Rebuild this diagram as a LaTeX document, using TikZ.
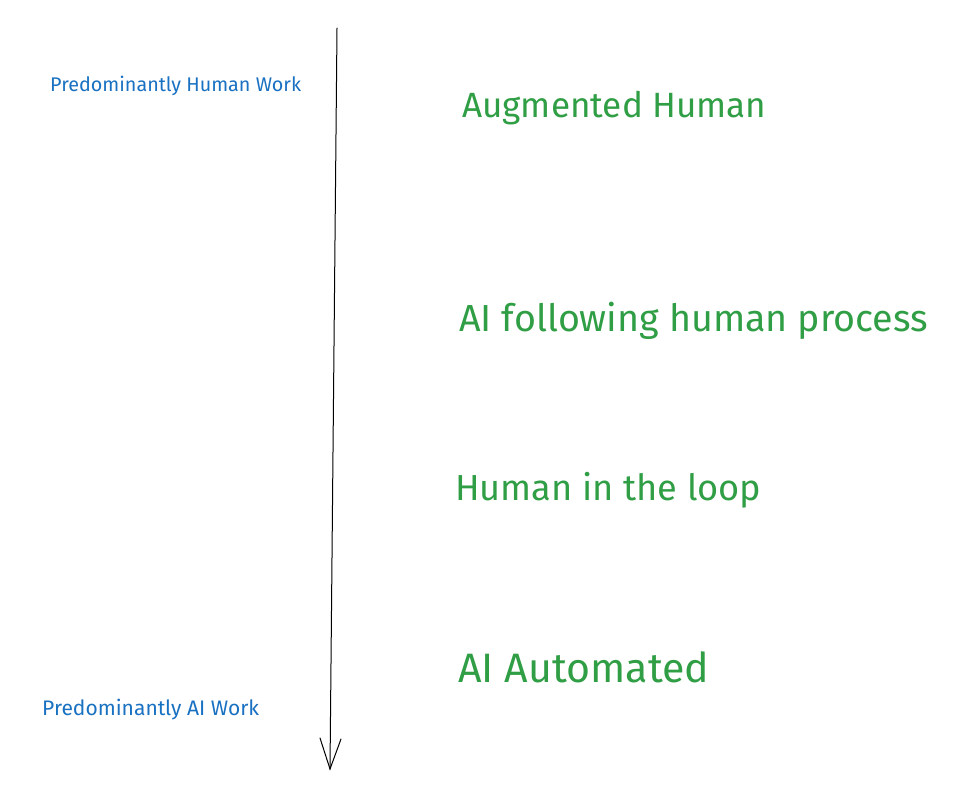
\documentclass[tikz,border=0pt]{standalone}
\usepackage{fontspec}
\setmainfont{Fira Sans}
\usepackage{graphicx}
\definecolor{hgreen}{HTML}{2F9E44}
\definecolor{hblue}{HTML}{1971C2}
\begin{document}
\begin{tikzpicture}[x=1pt,y=-1pt,
  bluelab/.style={anchor=west,inner sep=0pt,text=hblue},
  greenlab/.style={anchor=west,inner sep=0pt,text=hgreen},
  stroke/.style={line width=1pt,line cap=round,black}]
\useasboundingbox[fill=white] (0,0) rectangle (968,796);
\node[bluelab] (hw) at (50,86) {\resizebox{251pt}{!}{Predominantly Human Work}};
\node[bluelab] (aw) at (42,710) {\resizebox{217pt}{!}{Predominantly AI Work}};
\node[greenlab] (ah) at (462,108) {\resizebox{304pt}{!}{Augmented Human}};
\node[greenlab] (af) at (459,321) {\resizebox{469pt}{!}{AI following human process}};
\node[greenlab] (hl) at (455,490) {\resizebox{306pt}{!}{Human in the loop}};
\node[greenlab] (aa) at (458,667) {\resizebox{251pt}{!}{AI Automated}};
\coordinate (top) at (337,28);
\coordinate (tip) at (330,769);
\coordinate (hl1) at (320,738);
\coordinate (hl2) at (341,739);
\draw[stroke] (top) -- (tip);
\draw[stroke] (hl1) -- (tip) -- (hl2);
\end{tikzpicture}
\end{document}
